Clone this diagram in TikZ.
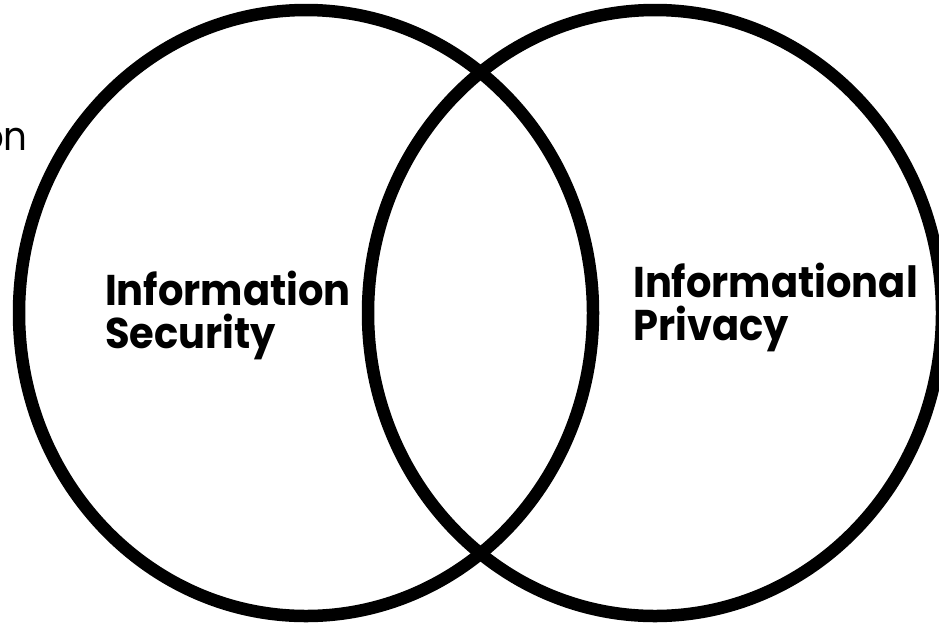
\documentclass[tikz,border=0pt]{standalone}
\usepackage{fontspec}
\setmainfont{Poppins}[FakeStretch=0.93]
\begin{document}
\begin{tikzpicture}[x=1pt,y=-1pt,
  ring/.style={draw=black,line width=12.5pt},
  label/.style={font=\bfseries\fontsize{43}{43}\selectfont,align=left,inner sep=0pt,anchor=base west},
  plain/.style={font=\fontsize{40}{40}\selectfont,inner sep=0pt,anchor=base east}]
\useasboundingbox (0,0) rectangle (939,622);
\fill[white] (0,0) rectangle (939,622);
\draw[ring] (306,313) ellipse [x radius=287, y radius=303];
\draw[ring] (655,313) ellipse [x radius=287, y radius=303];
\node[plain] (cut) at (28,150) {on};
\node[label] (sec) at (105,348) {Information\\Security};
\node[label] (priv) at (633,340) {Informational\\Privacy};
\end{tikzpicture}
\end{document}
